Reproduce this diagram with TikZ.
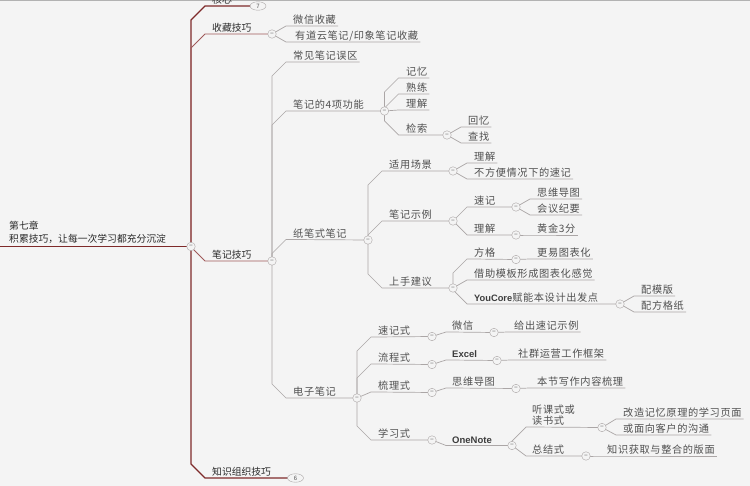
\documentclass[tikz,border=0pt]{standalone}
\usepackage{fontspec}
\setmainfont{Noto Sans CJK SC}
\newfontfamily\cjkwide[LetterSpace=6]{Noto Sans CJK SC}
\newfontfamily\latinfont{Liberation Sans}
\usetikzlibrary{shapes}
\usetikzlibrary{calc}
\usetikzlibrary{backgrounds}
\definecolor{paper}{HTML}{F4F4F4}
\definecolor{inkdark}{HTML}{2A2A2A}
\definecolor{inkgray}{HTML}{505050}
\definecolor{inklatin}{HTML}{3C3C3C}
\definecolor{trunkred}{HTML}{7E2A2A}
\definecolor{branchred}{HTML}{A05A5A}
\definecolor{twiggray}{HTML}{ABA6A6}
\tikzset{
	node_topic/.style = {
		anchor=south west,
		inner xsep=2pt,
		inner ysep=1pt,
		text height=8.5pt,
		text depth=1pt,
		text=inkgray,
		font=\fontsize{10.2}{11.5}\selectfont\cjkwide
	},
	node_main/.style = {
		node_topic,
		text=inkdark,
		font=\fontsize{9.8}{11.5}\selectfont
	},
	node_root/.style = {
		node_main,
		align=left,
		inner xsep=9pt,
		inner ysep=3pt,
		font=\fontsize{9.8}{12.5}\selectfont
	},
	node_latin/.style = {
		node_topic,
		text=inklatin,
		font=\fontsize{9.5}{11.5}\selectfont\latinfont\bfseries
	},
	node_fold/.style = {
		circle,
		draw=twiggray,
		fill=paper,
		text=inkgray,
		inner sep=0pt,
		minimum size=8.5pt,
		font=\fontsize{7}{7}\selectfont
	},
	node_count/.style = {
		ellipse,
		draw=twiggray,
		fill=paper,
		text=inkgray,
		inner sep=0pt,
		minimum width=16pt,
		minimum height=8.5pt,
		font=\fontsize{6}{6}\selectfont
	},
	line_trunk/.style = {draw=trunkred, line width=1.2pt},
	line_branch/.style = {draw=branchred, line width=0.9pt},
	line_twig/.style = {draw=twiggray, line width=0.7pt},
	elbow/.style = {
		to path={
			let \p1=(\tikztostart), \p2=(\tikztotarget),
			\n1={\y2+min(14pt,abs(\y1-\y2))*(\y1>\y2 ? 1 : -1)} in
			-- (\x1,\n1) -- ({\x1+14pt},\y2) -- (\tikztotarget)
		}
	},
}
\begin{document}
\begin{tikzpicture}[x=1pt,y=-1pt]
\useasboundingbox (0,0) rectangle (750,486);

\node [node_root] (root) at (0,246.5) {第七章\\积累技巧，让每一次学习都充分沉淀};
\node [node_fold] (f_root) at (191,246.5) {--};

\node [node_main] (n_core) at (210,6) {核心};
\node [node_count] (c_core) at (258,6) {7};
\node [node_main] (n_fav) at (210,34) {收藏技巧};
\node [node_fold] (f_fav) at (272,34) {--};
\node [node_main] (n_note) at (210,261) {笔记技巧};
\node [node_fold] (f_note) at (272,261) {--};
\node [node_main] (n_know) at (210,478) {知识组织技巧};
\node [node_count] (c_know) at (295.5,478) {6};

\node [node_topic] (n_wx) at (291,26) {微信收藏};
\node [node_topic] (n_yd) at (293,42) {有道云笔记/印象笔记收藏};

\node [node_topic] (n_err) at (291,62) {常见笔记误区};
\node [node_topic] (n_func) at (291,111) {笔记的4项功能};
\node [node_fold] (f_func) at (384.5,111) {--};
\node [node_topic] (n_paper) at (291,239.5) {纸笔式笔记};
\node [node_fold] (f_paper) at (368,240) {--};
\node [node_topic] (n_elec) at (291,398) {电子笔记};
\node [node_fold] (f_elec) at (357,398) {--};

\node [node_topic] (n_mem) at (404,78) {记忆};
\node [node_topic] (n_prac) at (404,94) {熟练};
\node [node_topic] (n_und) at (404,110) {理解};
\node [node_topic] (n_ret) at (404,135) {检索};
\node [node_fold] (f_ret) at (447,135) {--};
\node [node_topic] (n_rec) at (466,127) {回忆};
\node [node_topic] (n_find) at (466,143) {查找};

\node [node_topic] (n_use) at (387,171) {适用场景};
\node [node_fold] (f_use) at (453,171) {--};
\node [node_topic] (n_use1) at (472,163) {理解};
\node [node_topic] (n_use2) at (472,179) {不方便情况下的速记};

\node [node_topic] (n_ex) at (387,221) {笔记示例};
\node [node_fold] (f_ex) at (453,221) {--};
\node [node_topic] (n_fast) at (472,207) {速记};
\node [node_fold] (f_fast) at (516,207) {--};
\node [node_topic] (n_map) at (535,199) {思维导图};
\node [node_topic] (n_meet) at (535,215) {会议纪要};
\node [node_topic] (n_und2) at (472,235) {理解};
\node [node_fold] (f_und2) at (516,235) {--};
\node [node_topic] (n_gold) at (535,235) {黄金3分};

\node [node_topic] (n_tip) at (387,288) {上手建议};
\node [node_fold] (f_tip) at (453,288) {--};
\node [node_topic] (n_grid) at (472,259) {方格};
\node [node_fold] (f_grid) at (516,259.5) {--};
\node [node_topic] (n_chart) at (535,259) {更易图表化};
\node [node_topic] (n_tpl) at (472,280) {借助模板形成图表化感觉};
\node [node_topic] (n_you) at (472,304) {{\latinfont\bfseries\fontsize{9.3}{11.5}\selectfont\color{inklatin}YouCore}赋能本设计出发点};
\node [node_fold] (f_you) at (620,304) {--};
\node [node_topic] (n_mod) at (639,296) {配模版};
\node [node_topic] (n_sheet) at (639,312) {配方格纸};

\node [node_topic] (n_s1) at (376,337) {速记式};
\node [node_fold] (f_s1) at (432,336.5) {--};
\node [node_topic] (n_wechat) at (450,332) {微信};
\node [node_fold] (f_wechat) at (494,332.5) {--};
\node [node_topic] (n_give) at (512,332) {给出速记示例};

\node [node_topic] (n_s2) at (376,364) {流程式};
\node [node_fold] (f_s2) at (432,364.5) {--};
\node [node_latin] (n_excel) at (450,360) {Excel};
\node [node_fold] (f_excel) at (497,360.5) {--};
\node [node_topic] (n_group) at (516,360) {社群运营工作框架};

\node [node_topic] (n_s3) at (376,392) {梳理式};
\node [node_fold] (f_s3) at (432,392.5) {--};
\node [node_topic] (n_mind) at (450,388) {思维导图};
\node [node_fold] (f_mind) at (516,388.5) {--};
\node [node_topic] (n_sect) at (535,388) {本节写作内容梳理};

\node [node_topic] (n_s4) at (376,440) {学习式};
\node [node_fold] (f_s4) at (432,440) {--};
\node [node_latin] (n_one) at (450,445.5) {OneNote};
\node [node_fold] (f_one) at (512,445.5) {--};
\node [node_topic,align=left] (n_lis) at (530,427) {听课式或\\读书式};
\node [node_fold] (f_lis) at (602,427.5) {--};
\node [node_topic] (n_page) at (621,419) {改造记忆原理的学习页面};
\node [node_topic] (n_cust) at (621,435) {或面向客户的沟通};
\node [node_topic] (n_sum) at (530,456) {总结式};
\node [node_fold] (f_sum) at (586,456) {--};
\node [node_topic] (n_lay) at (605,456) {知识获取与整合的版面};

\begin{scope}[on background layer]
\fill [paper] (0,0) rectangle (750,486);
\fill [gray!60] (0,0) rectangle (750,1);

\draw [line_trunk] (root.south west) -- (f_root.center);
\draw [line_trunk] (f_root.center) to[elbow] (n_core.south west) -- (c_core.center);
\draw [line_trunk] (f_root.center) to[elbow] (n_know.south west) -- (c_know.center);
\draw [line_branch] (f_root.center) to[elbow] (n_fav.south west) -- (f_fav.center);
\draw [line_branch] (f_root.center) to[elbow] (n_note.south west) -- (f_note.center);

\draw [line_twig] (f_fav.center) to[elbow] (n_wx.south west) -- (n_wx.south east);
\draw [line_twig] (f_fav.center) to[elbow] (n_yd.south west) -- (n_yd.south east);

\draw [line_twig] (f_note.center) to[elbow] (n_err.south west) -- (n_err.south east);
\draw [line_twig] (f_note.center) to[elbow] (n_func.south west) -- (f_func.center);
\draw [line_twig] (f_note.center) to[elbow] (n_paper.south west) -- (f_paper.center);
\draw [line_twig] (f_note.center) to[elbow] (n_elec.south west) -- (f_elec.center);

\draw [line_twig] (f_func.center) to[elbow] (n_mem.south west) -- (n_mem.south east);
\draw [line_twig] (f_func.center) to[elbow] (n_prac.south west) -- (n_prac.south east);
\draw [line_twig] (f_func.center) to[elbow] (n_und.south west) -- (n_und.south east);
\draw [line_twig] (f_func.center) to[elbow] (n_ret.south west) -- (f_ret.center);
\draw [line_twig] (f_ret.center) to[elbow] (n_rec.south west) -- (n_rec.south east);
\draw [line_twig] (f_ret.center) to[elbow] (n_find.south west) -- (n_find.south east);

\draw [line_twig] (f_paper.center) to[elbow] (n_use.south west) -- (f_use.center);
\draw [line_twig] (f_paper.center) to[elbow] (n_ex.south west) -- (f_ex.center);
\draw [line_twig] (f_paper.center) to[elbow] (n_tip.south west) -- (f_tip.center);
\draw [line_twig] (f_use.center) to[elbow] (n_use1.south west) -- (n_use1.south east);
\draw [line_twig] (f_use.center) to[elbow] (n_use2.south west) -- (n_use2.south east);
\draw [line_twig] (f_ex.center) to[elbow] (n_fast.south west) -- (f_fast.center);
\draw [line_twig] (f_ex.center) to[elbow] (n_und2.south west) -- (f_und2.center);
\draw [line_twig] (f_fast.center) to[elbow] (n_map.south west) -- (n_map.south east);
\draw [line_twig] (f_fast.center) to[elbow] (n_meet.south west) -- (n_meet.south east);
\draw [line_twig] (f_und2.center) to[elbow] (n_gold.south west) -- (n_gold.south east);
\draw [line_twig] (f_tip.center) to[elbow] (n_grid.south west) -- (f_grid.center);
\draw [line_twig] (f_tip.center) to[elbow] (n_tpl.south west) -- (n_tpl.south east);
\draw [line_twig] (f_tip.center) to[elbow] (n_you.south west) -- (f_you.center);
\draw [line_twig] (f_grid.center) to[elbow] (n_chart.south west) -- (n_chart.south east);
\draw [line_twig] (f_you.center) to[elbow] (n_mod.south west) -- (n_mod.south east);
\draw [line_twig] (f_you.center) to[elbow] (n_sheet.south west) -- (n_sheet.south east);

\draw [line_twig] (f_elec.center) to[elbow] (n_s1.south west) -- (f_s1.center);
\draw [line_twig] (f_elec.center) to[elbow] (n_s2.south west) -- (f_s2.center);
\draw [line_twig] (f_elec.center) to[elbow] (n_s3.south west) -- (f_s3.center);
\draw [line_twig] (f_elec.center) to[elbow] (n_s4.south west) -- (f_s4.center);
\draw [line_twig] (f_s1.center) to[elbow] (n_wechat.south west) -- (f_wechat.center);
\draw [line_twig] (f_wechat.center) to[elbow] (n_give.south west) -- (n_give.south east);
\draw [line_twig] (f_s2.center) to[elbow] (n_excel.south west) -- (f_excel.center);
\draw [line_twig] (f_excel.center) to[elbow] (n_group.south west) -- (n_group.south east);
\draw [line_twig] (f_s3.center) to[elbow] (n_mind.south west) -- (f_mind.center);
\draw [line_twig] (f_mind.center) to[elbow] (n_sect.south west) -- (n_sect.south east);
\draw [line_twig] (f_s4.center) to[elbow] (n_one.south west) -- (f_one.center);
\draw [line_twig] (f_one.center) to[elbow] (n_lis.south west) -- (f_lis.center);
\draw [line_twig] (f_one.center) to[elbow] (n_sum.south west) -- (f_sum.center);
\draw [line_twig] (f_lis.center) to[elbow] (n_page.south west) -- (n_page.south east);
\draw [line_twig] (f_lis.center) to[elbow] (n_cust.south west) -- (n_cust.south east);
\draw [line_twig] (f_sum.center) to[elbow] (n_lay.south west) -- (n_lay.south east);
\end{scope}
\end{tikzpicture}
\end{document}
